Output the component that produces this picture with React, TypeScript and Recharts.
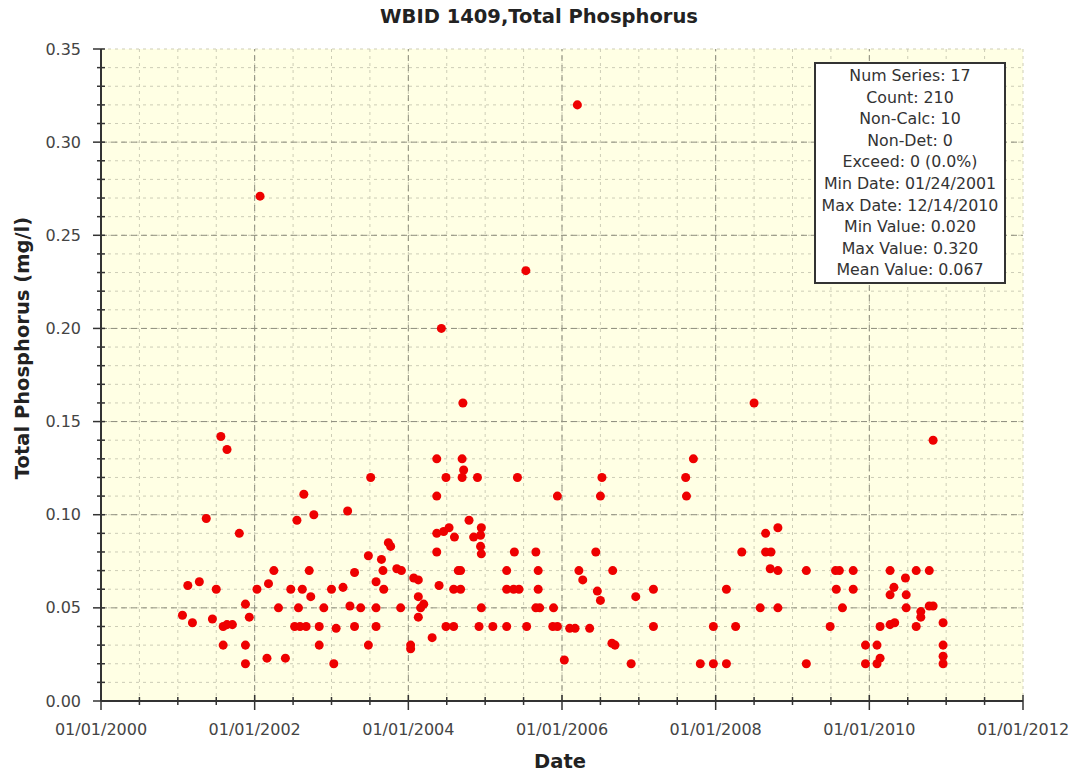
import { CartesianGrid, ReferenceLine, Scatter, ScatterChart, XAxis, YAxis, ZAxis } from "recharts";

// sample dates as decimal years
const sampleYears = [
  2001.06, 2001.13, 2001.19, 2001.28, 2001.37, 2001.45, 2001.5, 2001.56, 2001.59, 2001.59,
  2001.64, 2001.64, 2001.71, 2001.8, 2001.88, 2001.88, 2001.88, 2001.93, 2002.03, 2002.07,
  2002.16, 2002.18, 2002.25, 2002.31, 2002.4, 2002.47, 2002.52, 2002.55, 2002.57, 2002.59,
  2002.62, 2002.64, 2002.67, 2002.71, 2002.73, 2002.77, 2002.84, 2002.84, 2002.9, 2003.0,
  2003.03, 2003.06, 2003.15, 2003.21, 2003.24, 2003.3, 2003.3, 2003.38, 2003.48, 2003.48,
  2003.51, 2003.58, 2003.58, 2003.58, 2003.65, 2003.67, 2003.68, 2003.74, 2003.77, 2003.85,
  2003.9, 2003.91, 2004.03, 2004.03, 2004.07, 2004.13, 2004.13, 2004.13, 2004.16, 2004.2,
  2004.31, 2004.37, 2004.37, 2004.37, 2004.37, 2004.4, 2004.43, 2004.46, 2004.49, 2004.49,
  2004.53, 2004.59, 2004.59, 2004.6, 2004.65, 2004.68, 2004.68, 2004.7, 2004.7, 2004.71,
  2004.72, 2004.79, 2004.85, 2004.9, 2004.92, 2004.94, 2004.94, 2004.95, 2004.95, 2004.95,
  2005.1, 2005.28, 2005.28, 2005.28, 2005.37, 2005.38, 2005.42, 2005.44, 2005.53, 2005.54,
  2005.66, 2005.66, 2005.69, 2005.69, 2005.71, 2005.88, 2005.89, 2005.94, 2005.94, 2006.03,
  2006.1, 2006.17, 2006.2, 2006.22, 2006.27, 2006.36, 2006.44, 2006.46, 2006.5, 2006.5,
  2006.52, 2006.65, 2006.66, 2006.69, 2006.9, 2006.96, 2007.19, 2007.19, 2007.61, 2007.62,
  2007.71, 2007.8, 2007.97, 2007.97, 2008.14, 2008.14, 2008.26, 2008.34, 2008.5, 2008.58,
  2008.65, 2008.65, 2008.71, 2008.72, 2008.81, 2008.81, 2008.81, 2009.18, 2009.18, 2009.49,
  2009.56, 2009.57, 2009.61, 2009.65, 2009.79, 2009.79, 2009.95, 2009.95, 2010.1, 2010.1,
  2010.14, 2010.14, 2010.27, 2010.27, 2010.27, 2010.32, 2010.33, 2010.47, 2010.48, 2010.48,
  2010.61, 2010.61, 2010.67, 2010.67, 2010.78, 2010.78, 2010.83, 2010.83, 2010.96, 2010.96,
  2010.96, 2010.96,
];

// total phosphorus, mg/l
const phosphorus = [
  0.046, 0.062, 0.042, 0.064, 0.098, 0.044, 0.06, 0.142, 0.04, 0.03,
  0.135, 0.041, 0.041, 0.09, 0.052, 0.03, 0.02, 0.045, 0.06, 0.271,
  0.023, 0.063, 0.07, 0.05, 0.023, 0.06, 0.04, 0.097, 0.05, 0.04,
  0.06, 0.111, 0.04, 0.07, 0.056, 0.1, 0.04, 0.03, 0.05, 0.06,
  0.02, 0.039, 0.061, 0.102, 0.051, 0.069, 0.04, 0.05, 0.078, 0.03,
  0.12, 0.064, 0.05, 0.04, 0.076, 0.07, 0.06, 0.085, 0.083, 0.071,
  0.05, 0.07, 0.03, 0.028, 0.066, 0.065, 0.056, 0.045, 0.05, 0.052,
  0.034, 0.13, 0.11, 0.09, 0.08, 0.062, 0.2, 0.091, 0.12, 0.04,
  0.093, 0.06, 0.04, 0.088, 0.07, 0.07, 0.06, 0.13, 0.12, 0.16,
  0.124, 0.097, 0.088, 0.12, 0.04, 0.089, 0.083, 0.093, 0.079, 0.05,
  0.04, 0.07, 0.06, 0.04, 0.06, 0.08, 0.12, 0.06, 0.231, 0.04,
  0.08, 0.05, 0.07, 0.06, 0.05, 0.04, 0.05, 0.11, 0.04, 0.022,
  0.039, 0.039, 0.32, 0.07, 0.065, 0.039, 0.08, 0.059, 0.11, 0.054,
  0.12, 0.031, 0.07, 0.03, 0.02, 0.056, 0.06, 0.04, 0.12, 0.11,
  0.13, 0.02, 0.04, 0.02, 0.06, 0.02, 0.04, 0.08, 0.16, 0.05,
  0.09, 0.08, 0.071, 0.08, 0.093, 0.07, 0.05, 0.07, 0.02, 0.04,
  0.07, 0.06, 0.07, 0.05, 0.07, 0.06, 0.03, 0.02, 0.03, 0.02,
  0.04, 0.023, 0.07, 0.057, 0.041, 0.061, 0.042, 0.066, 0.057, 0.05,
  0.07, 0.04, 0.048, 0.045, 0.07, 0.051, 0.14, 0.051, 0.042, 0.03,
  0.024, 0.02,
];

const xTicks = [
  2000, 2000.5, 2001, 2001.5, 2002, 2002.5, 2003, 2003.5, 2004, 2004.5, 2005, 2005.5, 2006,
  2006.5, 2007, 2007.5, 2008, 2008.5, 2009, 2009.5, 2010, 2010.5, 2011, 2011.5, 2012,
];
const yTicks = [
  0, 0.01, 0.02, 0.03, 0.04, 0.05, 0.06, 0.07, 0.08, 0.09, 0.1, 0.11, 0.12, 0.13, 0.14, 0.15,
  0.16, 0.17, 0.18, 0.19, 0.2, 0.21, 0.22, 0.23, 0.24, 0.25, 0.26, 0.27, 0.28, 0.29, 0.3, 0.31,
  0.32, 0.33, 0.34, 0.35,
];
const majorYears = [2002, 2004, 2006, 2008, 2010];
const majorValues = [0.05, 0.1, 0.15, 0.2, 0.25, 0.3];

const statsLines = [
  "Num Series: 17",
  "Count: 210",
  "Non-Calc: 10",
  "Non-Det: 0",
  "Exceed: 0 (0.0%)",
  "Min Date: 01/24/2001",
  "Max Date: 12/14/2010",
  "Min Value: 0.020",
  "Max Value: 0.320",
  "Mean Value: 0.067",
];

const data = sampleYears.map((x, i) => ({ x, y: phosphorus[i] }));

const font = "'DejaVu Sans', Verdana, sans-serif";
const axisColor = "#333";
const isMajorYear = (v: number) => Number.isInteger(v) && v % 2 === 0;
const isMajorValue = (v: number) => Math.round(v * 100) % 5 === 0;

function BottomTick({ x, y, payload }: any) {
  const major = isMajorYear(payload.value);
  return (
    <g>
      <line x1={x} x2={x} y1={y - (major ? 6 : 4)} y2={y + (major ? 9 : 4)} stroke={axisColor} strokeWidth={1.5} />
      {major && (
        <text x={x} y={y + 28} textAnchor="middle" dominantBaseline="central" fontFamily={font} fontSize={16} fill="#444">
          {"01/01/" + payload.value}
        </text>
      )}
    </g>
  );
}

function TopTick({ x, y, payload }: any) {
  const major = isMajorYear(payload.value);
  return <line x1={x} x2={x} y1={y - 4} y2={y + (major ? 6 : 4)} stroke={axisColor} strokeWidth={1.5} />;
}

function LeftTick({ x, y, payload }: any) {
  const major = isMajorValue(payload.value);
  return (
    <g>
      <line x1={x - (major ? 8 : 4)} x2={x + 4} y1={y} y2={y} stroke={axisColor} strokeWidth={1.5} />
      {major && (
        <text x={x - 20} y={y} textAnchor="end" dominantBaseline="central" fontFamily={font} fontSize={16} fill="#444">
          {payload.value.toFixed(2)}
        </text>
      )}
    </g>
  );
}

function RightTick({ x, y, payload }: any) {
  const major = isMajorValue(payload.value);
  return <line x1={x - (major ? 6 : 4)} x2={x + 4} y1={y} y2={y} stroke={axisColor} strokeWidth={1.5} />;
}

export default function App() {
  return (
    <div style={{ position: "absolute", left: 0, top: 0, width: 1076, height: 777, background: "#fff", fontFamily: font }}>
      <ScatterChart width={1076} height={777} margin={{ top: 49, right: 53, left: 0, bottom: 0 }}>
        <CartesianGrid fill="#ffffe4" stroke="#cdcdb6" strokeDasharray="3 4" />
        <XAxis
          type="number"
          dataKey="x"
          domain={[2000, 2012]}
          ticks={xTicks}
          interval={0}
          height={76}
          tickSize={0}
          tickMargin={0}
          tick={<BottomTick />}
          axisLine={{ stroke: axisColor, strokeWidth: 2 }}
        />
        <XAxis
          xAxisId="top"
          orientation="top"
          type="number"
          dataKey="x"
          domain={[2000, 2012]}
          ticks={xTicks}
          interval={0}
          height={0}
          tickSize={0}
          tickMargin={0}
          tick={<TopTick />}
          axisLine={{ stroke: axisColor, strokeWidth: 2 }}
        />
        <YAxis
          type="number"
          dataKey="y"
          domain={[0, 0.35]}
          ticks={yTicks}
          interval={0}
          width={101}
          tickSize={0}
          tickMargin={0}
          tick={<LeftTick />}
          axisLine={{ stroke: axisColor, strokeWidth: 2 }}
        />
        <YAxis
          yAxisId="right"
          orientation="right"
          type="number"
          dataKey="y"
          domain={[0, 0.35]}
          ticks={yTicks}
          interval={0}
          width={0}
          tickSize={0}
          tickMargin={0}
          tick={<RightTick />}
          axisLine={{ stroke: axisColor, strokeWidth: 2 }}
        />
        <ZAxis range={[80, 80]} />
        {majorYears.map((yr) => (
          <ReferenceLine key={"x" + yr} x={yr} stroke="#8e8e7e" strokeDasharray="6 4" />
        ))}
        {majorValues.map((v) => (
          <ReferenceLine key={"y" + v} y={v} stroke="#8e8e7e" strokeDasharray="6 4" />
        ))}
        <Scatter data={data} fill="#ee0000" shape="circle" isAnimationActive={false} />
      </ScatterChart>

      <div style={{ position: "absolute", left: 339, width: 400, top: 5, textAlign: "center", fontWeight: "bold", fontSize: 19.5, color: "#222" }}>
        WBID 1409,Total Phosphorus
      </div>
      <div style={{ position: "absolute", left: 460, width: 200, top: 750, textAlign: "center", fontWeight: "bold", fontSize: 19.5, color: "#222" }}>
        Date
      </div>
      <div
        style={{
          position: "absolute",
          left: 23 - 150,
          top: 348 - 12,
          width: 300,
          height: 24,
          lineHeight: "24px",
          textAlign: "center",
          fontWeight: "bold",
          fontSize: 19.5,
          color: "#222",
          transform: "rotate(-90deg)",
        }}
      >
        Total Phosphorus (mg/l)
      </div>
      <div
        style={{
          position: "absolute",
          left: 814,
          top: 62,
          width: 188,
          border: "2px solid #333",
          background: "#fff",
          textAlign: "center",
          fontSize: 15.8,
          lineHeight: "21.6px",
          color: "#333",
          padding: "1px 0",
        }}
      >
        {statsLines.map((s) => (
          <div key={s}>{s}</div>
        ))}
      </div>
    </div>
  );
}
